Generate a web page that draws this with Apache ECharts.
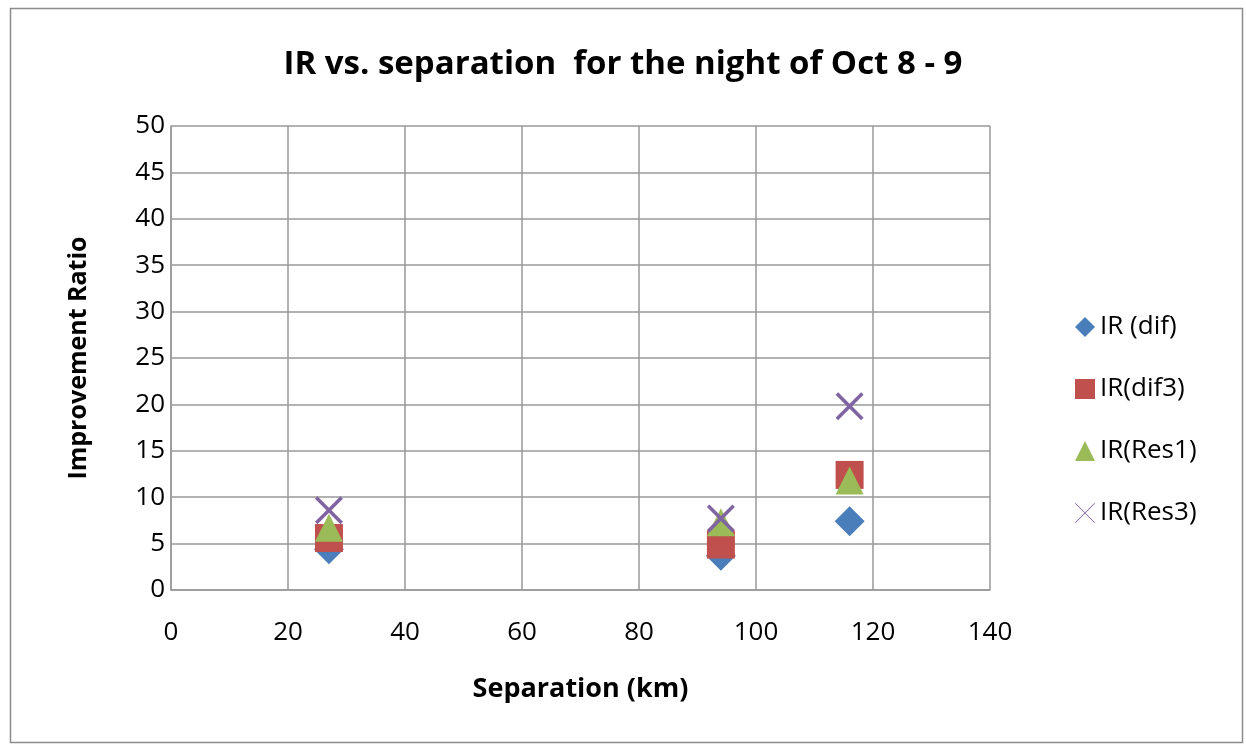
<!DOCTYPE html>
<html>
<head>
<meta charset="utf-8">
<script src="https://cdn.jsdelivr.net/npm/echarts@6/dist/echarts.min.js"></script>
<style>
  * { margin: 0; padding: 0; }
  body { background: #fff; }
  #main { width: 1246px; height: 748px; }
</style>
</head>
<body>
<!-- chart container -->
<div id="main"></div>
<script>
  var seriesNames = ['IR (dif)', 'IR(dif3)', 'IR(Res1)', 'IR(Res3)'];
  var separation = [27, 94, 116];
  var irDif = [4.4, 3.7, 7.4];
  var irDif3 = [5.6, 4.9, 12.4];
  var irRes1 = [6.7, 7.3, 11.8];
  var irRes3 = [8.6, 7.7, 19.8];
  var xTicks = [0, 20, 40, 60, 80, 100, 120, 140];
  var yTicks = [0, 5, 10, 15, 20, 25, 30, 35, 40, 45, 50];

  var colors = ['#4a7ebb', '#c0504d', '#9bbb59', '#8064a2'];
  // thick X for the plotted points, thin X for the legend
  var crossPath = 'path://M0,9L9,0L50,41L91,0L100,9L59,50L100,91L91,100L50,59L9,100L0,91L41,50Z';
  var thinCross = 'path://M0,3L3,0L50,47L97,0L100,3L53,50L100,97L97,100L50,53L3,100L0,97L47,50Z';

  function pairs(vals) {
    return separation.map(function (x, i) { return [x, vals[i]]; });
  }

  var font = '"Open Sans", "Liberation Sans", sans-serif';
  var chart = echarts.init(document.getElementById('main'));
  chart.setOption({
    animation: false,
    textStyle: { fontFamily: font },
    graphic: [{
      type: 'rect',
      left: 8, top: 6,
      shape: { width: 1232, height: 734 },
      style: { fill: 'none', stroke: '#8c8c8c', lineWidth: 1.5 }
    }],
    title: {
      text: 'IR vs. separation  for the night of Oct 8 - 9',
      left: 'center',
      top: 43,
      textStyle: { fontSize: 33, fontWeight: 'bold', color: '#000', fontFamily: font }
    },
    legend: {
      orient: 'vertical',
      left: 1070,
      top: 309,
      itemGap: 36,
      itemWidth: 20,
      itemHeight: 20,
      textStyle: { fontSize: 26, color: '#000' },
      data: [
        { name: seriesNames[0], icon: 'diamond', itemStyle: { color: colors[0] } },
        { name: seriesNames[1], icon: 'rect', itemStyle: { color: colors[1] } },
        { name: seriesNames[2], icon: 'triangle', itemStyle: { color: colors[2] } },
        { name: seriesNames[3], icon: thinCross, itemStyle: { color: colors[3] } }
      ]
    },
    grid: { left: 171, right: 256, top: 126, bottom: 158 },
    xAxis: {
      type: 'value',
      min: xTicks[0],
      max: xTicks[xTicks.length - 1],
      interval: 20,
      name: 'Separation (km)',
      nameLocation: 'middle',
      nameGap: 86,
      nameTextStyle: { fontSize: 27, fontWeight: 'bold', color: '#000' },
      axisLine: { lineStyle: { color: '#999', width: 1.5 } },
      axisTick: { show: false },
      axisLabel: { fontSize: 26, color: '#000', margin: 30 },
      splitLine: { show: true, lineStyle: { color: '#999', width: 1.5 } }
    },
    yAxis: {
      type: 'value',
      min: yTicks[0],
      max: yTicks[yTicks.length - 1],
      interval: 5,
      name: 'Improvement Ratio',
      nameLocation: 'middle',
      nameGap: 80,
      nameTextStyle: { fontSize: 25, fontWeight: 'bold', color: '#000' },
      axisLine: { show: true, lineStyle: { color: '#999', width: 1.5 } },
      axisTick: { show: false },
      axisLabel: { fontSize: 26, color: '#000', margin: 6 },
      splitLine: { show: true, lineStyle: { color: '#999', width: 1.5 } }
    },
    series: [
      { name: seriesNames[0], type: 'scatter', symbol: 'diamond', symbolSize: 30, itemStyle: { color: colors[0], opacity: 1 }, data: pairs(irDif) },
      { name: seriesNames[1], type: 'scatter', symbol: 'rect', symbolSize: 28, itemStyle: { color: colors[1], opacity: 1 }, data: pairs(irDif3) },
      { name: seriesNames[2], type: 'scatter', symbol: 'triangle', symbolSize: 28, itemStyle: { color: colors[2], opacity: 1 }, data: pairs(irRes1) },
      { name: seriesNames[3], type: 'scatter', symbol: crossPath, symbolSize: 28, itemStyle: { color: colors[3], opacity: 1 }, data: pairs(irRes3) }
    ]
  });
</script>
</body>
</html>
